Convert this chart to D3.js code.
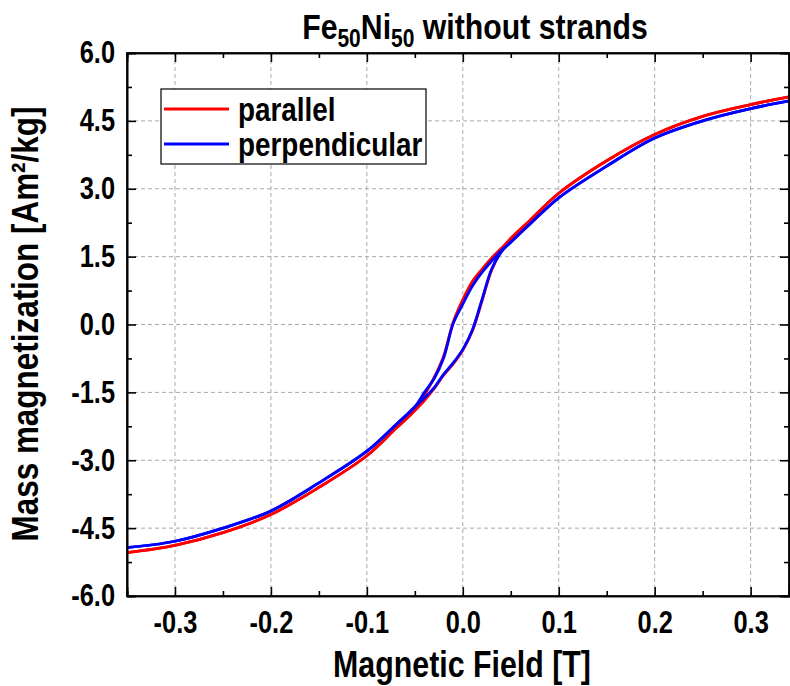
<!DOCTYPE html>
<html>
<head>
<meta charset="utf-8">
<script src="https://cdn.jsdelivr.net/npm/d3@7"></script>
<style>
  html, body { margin: 0; padding: 0; background: #fff; }
  svg { display: block; }
  text { font-family: "Liberation Sans", Arial, sans-serif; font-weight: bold; fill: #000; }
</style>
</head>
<body>
<svg id="chart" width="790" height="686"></svg>
<script>
// ---- data ----
const field = [-0.35, -0.3, -0.25, -0.2, -0.15, -0.1, -0.07, -0.05, -0.04, -0.03, -0.02, -0.01, 0, 0.01, 0.02, 0.03, 0.04, 0.05, 0.07, 0.1, 0.15, 0.2, 0.25, 0.3, 0.34];
// descending-field branch (upper) and ascending-field branch (lower) of each loop
const parallelDesc = [-5.04, -4.88, -4.6, -4.2, -3.6, -2.9, -2.3, -1.9, -1.56, -1.18, -0.7, 0.05, 0.55, 0.95, 1.22, 1.47, 1.68, 1.9, 2.3, 2.9, 3.62, 4.2, 4.6, 4.86, 5.03];
const parallelAsc  = [-5.04, -4.88, -4.6, -4.2, -3.6, -2.9, -2.3, -1.9, -1.68, -1.42, -1.12, -0.87, -0.57, -0.14, 0.52, 1.2, 1.62, 1.9, 2.3, 2.9, 3.62, 4.2, 4.6, 4.86, 5.03];
const perpDesc = [-4.93, -4.79, -4.5, -4.12, -3.5, -2.8, -2.22, -1.82, -1.5, -1.2, -0.74, 0.02, 0.45, 0.85, 1.15, 1.4, 1.63, 1.82, 2.22, 2.8, 3.5, 4.12, 4.5, 4.77, 4.94];
const perpAsc  = [-4.93, -4.79, -4.5, -4.12, -3.5, -2.8, -2.22, -1.82, -1.62, -1.4, -1.1, -0.85, -0.55, -0.12, 0.55, 1.22, 1.6, 1.82, 2.22, 2.8, 3.5, 4.12, 4.5, 4.77, 4.94];

const xTicks = [-0.3, -0.2, -0.1, 0.0, 0.1, 0.2, 0.3];
const xMinor = [-0.35, -0.25, -0.15, -0.05, 0.05, 0.15, 0.25];
const yTicks = [-6.0, -4.5, -3.0, -1.5, 0.0, 1.5, 3.0, 4.5, 6.0];
const yMinor = [-5.25, -3.75, -2.25, -0.75, 0.75, 2.25, 3.75, 5.25];
const seriesNames = ["parallel", "perpendicular"];
const seriesColors = ["#ff0000", "#0000ff"];

// ---- layout ----
const svg = d3.select("#chart");
const L = 127, R = 789, T = 53, B = 596;
const NARROW = 0.82; // the reference uses a condensed bold face
const x = d3.scaleLinear().domain([-0.35, 0.34]).range([L, R]);
const y = d3.scaleLinear().domain([-6, 6]).range([B, T]);
const fmt = d => d3.format(".1f")(d).replace("\u2212", "-");

// grid
const grid = svg.append("g").attr("stroke", "#a8a8a8").attr("stroke-width", 1).attr("stroke-dasharray", "4,3");
grid.selectAll("line.v").data(xTicks).join("line")
  .attr("x1", d => x(d)).attr("x2", d => x(d)).attr("y1", T).attr("y2", B);
grid.selectAll("line.h").data(yTicks.filter(d => Math.abs(d) < 6)).join("line")
  .attr("y1", d => y(d)).attr("y2", d => y(d)).attr("x1", L).attr("x2", R);

// curves
const line = d3.line().x((d, i) => x(field[i])).y(d => y(d)).curve(d3.curveCatmullRom.alpha(0.5));
const curves = [[parallelDesc, parallelAsc], [perpDesc, perpAsc]];
const plot = svg.append("g");
curves.forEach((branches, k) => {
  branches.forEach(arr => {
    plot.append("path").attr("d", line(arr)).attr("fill", "none")
      .attr("stroke", seriesColors[k]).attr("stroke-width", 2.8).attr("stroke-linejoin", "round");
  });
});

// axes (ticks pointing inward)
const major = 9, minor = 5;
const ax = svg.append("g");
const bottom = ax.append("g").attr("transform", `translate(0,${B})`)
  .call(d3.axisBottom(x).tickValues(xTicks).tickSize(-major).tickFormat(fmt).tickPadding(15));
ax.append("g").attr("transform", `translate(0,${B})`)
  .call(d3.axisBottom(x).tickValues(xMinor).tickSize(-minor).tickFormat(""));
ax.append("g").attr("transform", `translate(0,${T})`)
  .call(d3.axisTop(x).tickValues(xTicks).tickSize(-major).tickFormat(""));
ax.append("g").attr("transform", `translate(0,${T})`)
  .call(d3.axisTop(x).tickValues(xMinor).tickSize(-minor).tickFormat(""));
const left = ax.append("g").attr("transform", `translate(${L},0)`)
  .call(d3.axisLeft(y).tickValues(yTicks).tickSize(-major).tickFormat(fmt).tickPadding(14.6));
ax.append("g").attr("transform", `translate(${L},0)`)
  .call(d3.axisLeft(y).tickValues(yMinor).tickSize(-minor).tickFormat(""));
ax.append("g").attr("transform", `translate(${R},0)`)
  .call(d3.axisRight(y).tickValues(yTicks).tickSize(-major).tickFormat(""));
ax.append("g").attr("transform", `translate(${R},0)`)
  .call(d3.axisRight(y).tickValues(yMinor).tickSize(-minor).tickFormat(""));
ax.selectAll(".domain").attr("stroke", "#000").attr("stroke-width", 1.6);
ax.selectAll(".tick line").attr("stroke", "#000").attr("stroke-width", 1.6);
ax.selectAll(".tick text").attr("font-size", 31).attr("font-family", null)
  .attr("transform", `scale(${NARROW},1)`);
svg.append("rect").attr("x", L).attr("y", T).attr("width", R - L).attr("height", B - T)
  .attr("fill", "none").attr("stroke", "#000").attr("stroke-width", 1.6);

// title
const title = svg.append("text").attr("transform", `translate(475,39) scale(0.84,1)`)
  .attr("text-anchor", "middle").attr("font-size", 36);
title.append("tspan").text("Fe");
title.append("tspan").attr("font-size", 25).attr("dy", 8).text("50");
title.append("tspan").attr("dy", -8).text("Ni");
title.append("tspan").attr("font-size", 25).attr("dy", 8).text("50");
title.append("tspan").attr("dy", -8).text(" without strands");

// axis titles
svg.append("text").attr("transform", `translate(462,677) scale(${NARROW},1)`)
  .attr("text-anchor", "middle").attr("font-size", 37)
  .text("Magnetic Field [T]");
svg.append("text").attr("transform", "translate(38,324) rotate(-90) scale(0.85,1)")
  .attr("text-anchor", "middle").attr("font-size", 37)
  .text("Mass magnetization [Am²/kg]");

// legend
const lg = svg.append("g");
lg.append("rect").attr("x", 161).attr("y", 89).attr("width", 265).attr("height", 75)
  .attr("fill", "#fff").attr("stroke", "#000").attr("stroke-width", 1.2);
seriesNames.forEach((name, i) => {
  const yy = 109 + i * 35;
  lg.append("line").attr("x1", 164).attr("x2", 229).attr("y1", yy).attr("y2", yy)
    .attr("stroke", seriesColors[i]).attr("stroke-width", 3);
  lg.append("text").attr("transform", `translate(238,${yy + 12}) scale(${NARROW},1)`)
    .attr("font-size", 34).text(name);
});
</script>
</body>
</html>
